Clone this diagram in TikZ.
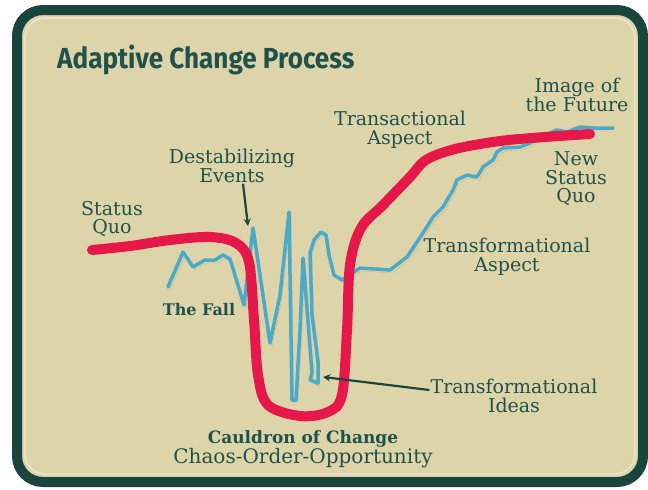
\documentclass[tikz,border=0pt]{standalone}
\usepackage{fontspec}
\setmainfont{DejaVu Serif}
\newfontfamily\titlefont[FakeStretch=0.9]{Fira Sans}
\usetikzlibrary{positioning,arrows}
\definecolor{framecol}{RGB}{26,68,62}
\definecolor{bgcol}{RGB}{221,212,170}
\definecolor{txtcol}{RGB}{32,82,75}
\definecolor{redcol}{RGB}{230,24,74}
\definecolor{bluecol}{RGB}{76,170,200}

\begin{document}
\begin{tikzpicture}
   [x=1pt,y=-1pt,
    lbl/.style={align=center,text=txtcol,inner sep=1pt,
      font=\fontsize{19}{18.5}\selectfont},
    blbl/.style={lbl,font=\bfseries\fontsize{16}{18.5}\selectfont},
    arr/.style={-stealth,line width=2.2pt,framecol},
    shade/.style={preaction={draw,black,opacity=0.13,
      transform canvas={xshift=2pt,yshift=-3pt}}}]

\useasboundingbox [fill=white] (0,0) rectangle (648,490);
\draw [line width=10pt,framecol,fill=bgcol,rounded corners=26pt] (17,10) rectangle (643,482);
\draw [line width=2pt,white,opacity=0.35,rounded corners=20pt] (25,18) rectangle (635,474);

\node [anchor=base west,inner sep=0,text=txtcol,
  font=\titlefont\bfseries\fontsize{29}{29}\selectfont] (title) at (57,68) {Adaptive Change Process};

\draw [bluecol,line width=3.5pt,line join=round,line cap=round,shade]
  (168,287) -- (183,252) -- (193,267) -- (205,260) -- (215,260) -- (223,255)
  -- (230,259) -- (244,305) -- (253,228) -- (270,343) -- (280,295) -- (289,212)
  -- (292,400) -- (296,400) -- (300,330) -- (303,258) -- (312,373) -- (310,380)
  -- (318,383) -- (318,362) -- (312,315) -- (310,253) -- (314,240) -- (321,232)
  -- (326,235) -- (329,255) -- (334,275) -- (342,280) -- (360,268) -- (390,270)
  -- (407,257) -- (423,233) -- (433,217) -- (443,207) -- (453,190) -- (457,180)
  -- (467,175) -- (477,177) -- (483,167) -- (493,160) -- (497,152) -- (503,148)
  -- (520,147) -- (530,143) -- (540,137) -- (557,130) -- (567,132) -- (580,127)
  -- (593,128) -- (613,128);

\draw [redcol,line width=10pt,line cap=round,shade]
  plot [smooth,tension=0.55] coordinates {(92,250) (130,246) (170,240) (210,237)
  (236,243) (249,262) (254,320) (258,375) (268,405) (300,416) (328,412) (342,395)
  (347,330) (350,265) (361,228) (383,205) (410,177) (426,160) (455,149) (500,141)
  (545,137) (590,134)};

\node [lbl] (sq) at (112,219) {Status\\Quo};
\node [lbl] (dest) at (232,166) {Destabilizing\\Events};
\node [lbl] (trans) at (400,130) {Transactional\\Aspect};
\node [lbl] (image) at (577,95) {Image of\\the Future};
\node [lbl] (nsq) at (576,179) {New\\Status\\Quo};
\node [lbl] (tfa) at (507,257) {Transformational\\Aspect};
\node [blbl] (fall) at (199,310) {The Fall};
\node [lbl] (ideas) at (514,396) {Transformational\\Ideas};
\node [lbl] (cauldron) at (303,449) {{\bfseries\fontsize{17}{18.5}\selectfont Cauldron of Change}\\{\fontsize{20}{18.5}\selectfont Chaos-Order-Opportunity}};

\coordinate (spike) at (248,226);
\coordinate (idea) at (323,377);
\draw [arr] ([xshift=11pt]dest.south) -- (spike);
\draw [arr] ([yshift=6pt]ideas.west) -- (idea);
\end{tikzpicture}
\end{document}
